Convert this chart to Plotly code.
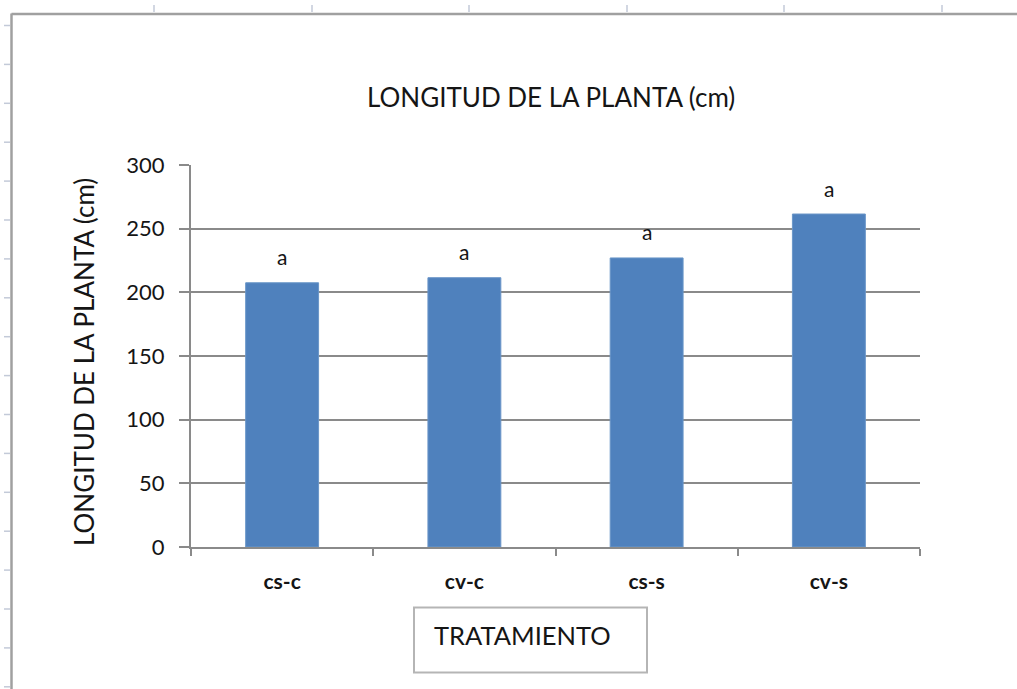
import plotly.graph_objects as go

categories = ["cs-c", "cv-c", "cs-s", "cv-s"]
values = [207.5, 211.5, 227.0, 261.5]
letters = ["a", "a", "a", "a"]
y_ticks = [0, 50, 100, 150, 200, 250, 300]

W, H = 1017, 689
L, R, T, B = 191, 920, 165, 547  # plot area in pixels


def px(x):
    return (x - L) / (R - L)


def py(y):
    return (B - y) / (B - T)


FONT = "Lato"
TXT = "#151515"
GRID = "#8a8a8a"

fig = go.Figure()
fig.add_trace(go.Bar(
    x=categories, y=values, width=0.4,
    marker=dict(color="#4F81BD", line=dict(color="#6a96c8", width=1)),
    hoverinfo="x+y",
))

shapes = []
# spreadsheet column ticks on top
for cx in [154, 312, 469, 627, 784, 942]:
    shapes.append(dict(type="line", xref="paper", yref="paper",
                       x0=px(cx), x1=px(cx), y0=py(5), y1=py(12),
                       line=dict(color="#c3cad8", width=1.5)))
# spreadsheet row ticks on left
ry = 25.5
while ry < H:
    shapes.append(dict(type="line", xref="paper", yref="paper",
                       x0=px(4), x1=px(10), y0=py(ry), y1=py(ry),
                       line=dict(color="#c3cad8", width=1.5)))
    ry += 38.9
# chart area frame (left and top)
shapes.append(dict(type="line", xref="paper", yref="paper",
                   x0=px(11.5), x1=px(11.5), y0=py(13.5), y1=py(H + 5),
                   line=dict(color="#a0a0a0", width=2.5)))
shapes.append(dict(type="line", xref="paper", yref="paper",
                   x0=px(11.5), x1=px(W + 5), y0=py(14), y1=py(14),
                   line=dict(color="#a0a0a0", width=2.5)))
# TRATAMIENTO box
shapes.append(dict(type="rect", xref="paper", yref="paper",
                   x0=px(414), x1=px(647), y0=py(607.5), y1=py(672.5),
                   line=dict(color="#b5b5b5", width=2), fillcolor="white"))

annotations = []
for c, v, t in zip(categories, values, letters):
    annotations.append(dict(x=c, y=v, xref="x", yref="y", text=t,
                            showarrow=False, yshift=26,
                            font=dict(family=FONT, size=21, color=TXT)))
annotations.append(dict(x=px(551), y=py(97), xref="paper", yref="paper",
                        text="LONGITUD DE LA PLANTA (cm)", showarrow=False,
                        xanchor="center", yanchor="middle",
                        font=dict(family=FONT, size=26, color=TXT)))
annotations.append(dict(x=px(84), y=py(362), xref="paper", yref="paper",
                        text="LONGITUD DE LA PLANTA (cm)", showarrow=False,
                        textangle=-90, xanchor="center", yanchor="middle",
                        font=dict(family=FONT, size=26, color=TXT)))
annotations.append(dict(x=px(432), y=py(635), xref="paper", yref="paper",
                        text="TRATAMIENTO", showarrow=False,
                        xanchor="left", yanchor="middle",
                        font=dict(family=FONT, size=25.5, color=TXT)))

fig.update_layout(
    width=W, height=H,
    margin=dict(l=L, r=W - R, t=T, b=H - B),
    paper_bgcolor="white", plot_bgcolor="white",
    showlegend=False, bargap=0.6,
    shapes=shapes, annotations=annotations,
    xaxis=dict(
        type="category", range=[-0.5, 3.5],
        showline=True, linecolor=GRID, linewidth=2,
        ticks="outside", tickson="boundaries", ticklen=7, tickcolor=GRID, tickwidth=2,
        showgrid=False, ticklabelstandoff=15,
        tickfont=dict(family=FONT, size=21, color=TXT, weight="bold"),
    ),
    yaxis=dict(
        range=[0, 300], tickvals=y_ticks,
        showline=True, linecolor=GRID, linewidth=2,
        ticks="outside", ticklen=10, tickcolor=GRID, tickwidth=2,
        showgrid=True, gridcolor=GRID, gridwidth=2,
        zeroline=False, ticklabelstandoff=10,
        tickfont=dict(family=FONT, size=22, color=TXT),
    ),
)

fig.write_html("out.html")
